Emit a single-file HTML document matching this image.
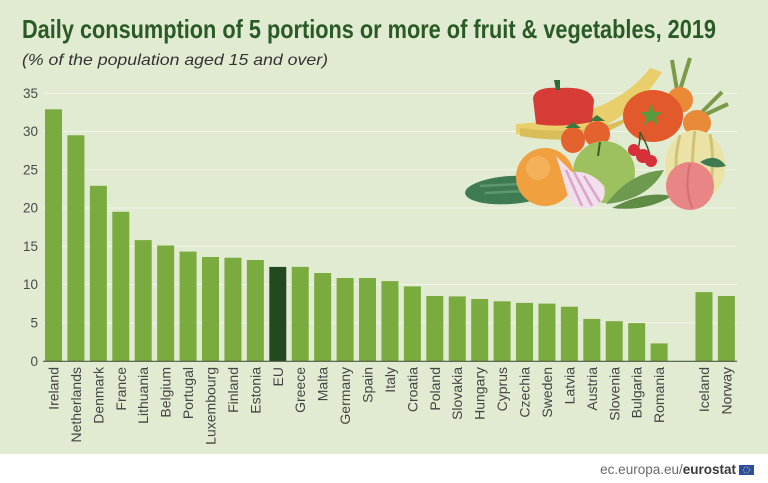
<!DOCTYPE html>
<html><head><meta charset="utf-8"><style>
html,body{margin:0;padding:0;background:#fff;}
svg{display:block;}
</style></head><body>
<svg width="768" height="483" viewBox="0 0 768 483" xmlns="http://www.w3.org/2000/svg" font-family="Liberation Sans, DejaVu Sans, sans-serif">
<rect x="0" y="0" width="768" height="454" fill="#e1ebd2"/>
<rect x="0" y="454" width="768" height="29" fill="#ffffff"/>
<!-- title -->
<text x="22" y="38" font-size="26" font-weight="bold" fill="#2a5a26" textLength="694" lengthAdjust="spacingAndGlyphs">Daily consumption of 5 portions or more of fruit &amp; vegetables, 2019</text>
<text x="22" y="65" font-size="16" font-style="italic" fill="#333" textLength="306" lengthAdjust="spacingAndGlyphs">(% of  the population aged 15 and over)</text>
<!-- gridlines -->
<g stroke="#eff4e6" stroke-width="1.2">
<line x1="43" x2="737" y1="93.3" y2="93.3"/>
<line x1="43" x2="737" y1="131.5" y2="131.5"/>
<line x1="43" x2="737" y1="169.8" y2="169.8"/>
<line x1="43" x2="737" y1="208" y2="208"/>
<line x1="43" x2="737" y1="246.3" y2="246.3"/>
<line x1="43" x2="737" y1="284.5" y2="284.5"/>
<line x1="43" x2="737" y1="322.8" y2="322.8"/>
</g>
<!-- y labels -->
<g font-size="13.5" fill="#4a4a4a" text-anchor="end">
<text x="38" y="98">35</text>
<text x="38" y="136">30</text>
<text x="38" y="174.5">25</text>
<text x="38" y="212.5">20</text>
<text x="38" y="251">15</text>
<text x="38" y="289">10</text>
<text x="38" y="327.5">5</text>
<text x="38" y="366">0</text>
</g>
<!-- illustration -->
<g>
<path d="M516,134 Q612,152 662,72 L650,68 Q612,118 516,124 Z" fill="#e8cf6b"/>
<path d="M520,136 Q600,150 640,110 Q600,138 520,128 Z" fill="#d9bd58"/>
<line x1="677" y1="90" x2="672" y2="60" stroke="#7a9a4a" stroke-width="4"/>
<line x1="680" y1="90" x2="690" y2="58" stroke="#7a9a4a" stroke-width="4"/>
<line x1="700" y1="114" x2="722" y2="92" stroke="#7a9a4a" stroke-width="4"/>
<line x1="702" y1="116" x2="728" y2="104" stroke="#7a9a4a" stroke-width="4"/>
<ellipse cx="680" cy="100" rx="13" ry="13" fill="#e88a38"/>
<ellipse cx="697" cy="123" rx="14" ry="13" fill="#e88a38"/>
<path d="M533,98 Q535,86 560,88 Q590,86 594,100 L592,122 Q560,128 536,124 Z" fill="#d63b36"/>
<path d="M556,90 L554,80 L560,80 L560,90 Z" fill="#2e6a3a"/>
<ellipse cx="695" cy="166" rx="30" ry="36" fill="#ebe2a6"/>
<path d="M680,135 Q672,165 680,198 M695,131 Q690,166 695,200 M710,134 Q716,166 708,198" stroke="#cfc278" stroke-width="3" fill="none"/>
<ellipse cx="653" cy="116" rx="30" ry="26" fill="#e2592c"/>
<path d="M651,104 L654,112 L662,112 L656,117 L658,125 L651,120 L644,125 L646,117 L640,112 L648,112 Z" fill="#5a9a3e"/>
<ellipse cx="510" cy="190" rx="45" ry="14" fill="#3e7a52" transform="rotate(-4 510 190)"/>
<path d="M480,186 L520,184 M485,193 L525,191" stroke="#5d9670" stroke-width="2.5"/>
<circle cx="545" cy="177" r="29" fill="#f0a03e"/>
<circle cx="538" cy="168" r="12" fill="#f4b15a"/>
<ellipse cx="573" cy="140" rx="12" ry="13" fill="#e4622e"/>
<ellipse cx="597" cy="134" rx="13" ry="13" fill="#e4622e"/>
<path d="M565,128 L573,122 L581,128 Z M589,121 L597,115 L605,121 Z" fill="#3e7a40"/>
<circle cx="604" cy="172" r="31" fill="#9dc15f"/>
<line x1="600" y1="142" x2="598" y2="156" stroke="#3e5a2a" stroke-width="2"/>
<path d="M640,132 Q640,146 637,150 M640,132 Q648,146 650,156" stroke="#3e5a2a" stroke-width="1.5" fill="none"/>
<circle cx="634" cy="150" r="6" fill="#d8303a"/>
<circle cx="643" cy="156" r="7" fill="#d8303a"/>
<circle cx="651" cy="161" r="6" fill="#d8303a"/>
<path d="M556,156 Q566,166 572,172 Q590,170 604,186 Q608,204 590,208 Q572,210 568,196 Q564,182 560,168 Z" fill="#f3dfec"/>
<path d="M566,170 L582,206 M574,172 L592,206 M584,176 L600,202" stroke="#d9a5c8" stroke-width="2.5"/>
<path d="M606,204 Q630,172 664,170 Q648,200 606,204 Z" fill="#6d9a4e"/>
<path d="M612,208 Q645,190 672,196 Q646,212 612,208 Z" fill="#5f8c44"/>
<circle cx="690" cy="186" r="24" fill="#e88585"/>
<path d="M690,164 Q684,186 692,208" stroke="#d46e70" stroke-width="2" fill="none"/>
<path d="M700,162 Q716,152 726,166 Q712,170 700,162 Z" fill="#3e7a52"/>
</g>
<!-- bars -->
<g fill="#7aab3e">
<rect x="45" y="109.3" width="17" height="251.7"/>
<rect x="67.43" y="135.3" width="17" height="225.7"/>
<rect x="89.86" y="185.8" width="17" height="175.2"/>
<rect x="112.29" y="211.8" width="17" height="149.2"/>
<rect x="134.72" y="240.1" width="17" height="120.9"/>
<rect x="157.15" y="245.5" width="17" height="115.5"/>
<rect x="179.58" y="251.6" width="17" height="109.4"/>
<rect x="202.01" y="257" width="17" height="104"/>
<rect x="224.44" y="257.7" width="17" height="103.3"/>
<rect x="246.87" y="260" width="17" height="101"/>
<rect x="291.73" y="266.9" width="17" height="94.1"/>
<rect x="314.16" y="273" width="17" height="88"/>
<rect x="336.59" y="278" width="17" height="83"/>
<rect x="359.02" y="278" width="17" height="83"/>
<rect x="381.45" y="281.1" width="17" height="79.9"/>
<rect x="403.88" y="286.4" width="17" height="74.6"/>
<rect x="426.31" y="296" width="17" height="65"/>
<rect x="448.74" y="296.4" width="17" height="64.6"/>
<rect x="471.17" y="299" width="17" height="62"/>
<rect x="493.6" y="301.3" width="17" height="59.7"/>
<rect x="516.03" y="302.9" width="17" height="58.1"/>
<rect x="538.46" y="303.6" width="17" height="57.4"/>
<rect x="560.89" y="306.7" width="17" height="54.3"/>
<rect x="583.32" y="318.9" width="17" height="42.1"/>
<rect x="605.75" y="321.2" width="17" height="39.8"/>
<rect x="628.18" y="323.1" width="17" height="37.9"/>
<rect x="650.61" y="343.4" width="17" height="17.6"/>
<rect x="695.47" y="292.1" width="17" height="68.9"/>
<rect x="717.9" y="296" width="17" height="65"/>
</g>
<rect x="269.3" y="266.9" width="17" height="94.1" fill="#224a1f"/>
<line x1="43" x2="737" y1="361.3" y2="361.3" stroke="#4a5a40" stroke-width="1.2"/>
<!-- x labels -->
<g font-size="14" fill="#444" text-anchor="end">
<text transform="translate(58.5,367) rotate(-90)">Ireland</text>
<text transform="translate(80.9,367) rotate(-90)">Netherlands</text>
<text transform="translate(103.4,367) rotate(-90)">Denmark</text>
<text transform="translate(125.8,367) rotate(-90)">France</text>
<text transform="translate(148.2,367) rotate(-90)">Lithuania</text>
<text transform="translate(170.7,367) rotate(-90)">Belgium</text>
<text transform="translate(193.1,367) rotate(-90)">Portugal</text>
<text transform="translate(215.5,367) rotate(-90)">Luxembourg</text>
<text transform="translate(237.9,367) rotate(-90)">Finland</text>
<text transform="translate(260.4,367) rotate(-90)">Estonia</text>
<text transform="translate(282.8,367) rotate(-90)">EU</text>
<text transform="translate(305.2,367) rotate(-90)">Greece</text>
<text transform="translate(327.7,367) rotate(-90)">Malta</text>
<text transform="translate(350.1,367) rotate(-90)">Germany</text>
<text transform="translate(372.5,367) rotate(-90)">Spain</text>
<text transform="translate(395,367) rotate(-90)">Italy</text>
<text transform="translate(417.4,367) rotate(-90)">Croatia</text>
<text transform="translate(439.8,367) rotate(-90)">Poland</text>
<text transform="translate(462.2,367) rotate(-90)">Slovakia</text>
<text transform="translate(484.7,367) rotate(-90)">Hungary</text>
<text transform="translate(507.1,367) rotate(-90)">Cyprus</text>
<text transform="translate(529.5,367) rotate(-90)">Czechia</text>
<text transform="translate(552,367) rotate(-90)">Sweden</text>
<text transform="translate(574.4,367) rotate(-90)">Latvia</text>
<text transform="translate(596.8,367) rotate(-90)">Austria</text>
<text transform="translate(619.3,367) rotate(-90)">Slovenia</text>
<text transform="translate(641.7,367) rotate(-90)">Bulgaria</text>
<text transform="translate(664.1,367) rotate(-90)">Romania</text>
<text transform="translate(709,367) rotate(-90)">Iceland</text>
<text transform="translate(731.4,367) rotate(-90)">Norway</text>
</g>
<!-- footer -->
<text x="736" y="474" font-size="13.5" text-anchor="end" fill="#6a6a6a">ec.europa.eu/<tspan font-weight="bold" fill="#3a3a3a">eurostat</tspan></text>
<rect x="739" y="465" width="15" height="10" fill="#2a4ea0"/>
<circle cx="746.5" cy="470" r="3" fill="none" stroke="#e8d040" stroke-width="0.8" stroke-dasharray="0.8 0.8"/>
</svg>
</body></html>
